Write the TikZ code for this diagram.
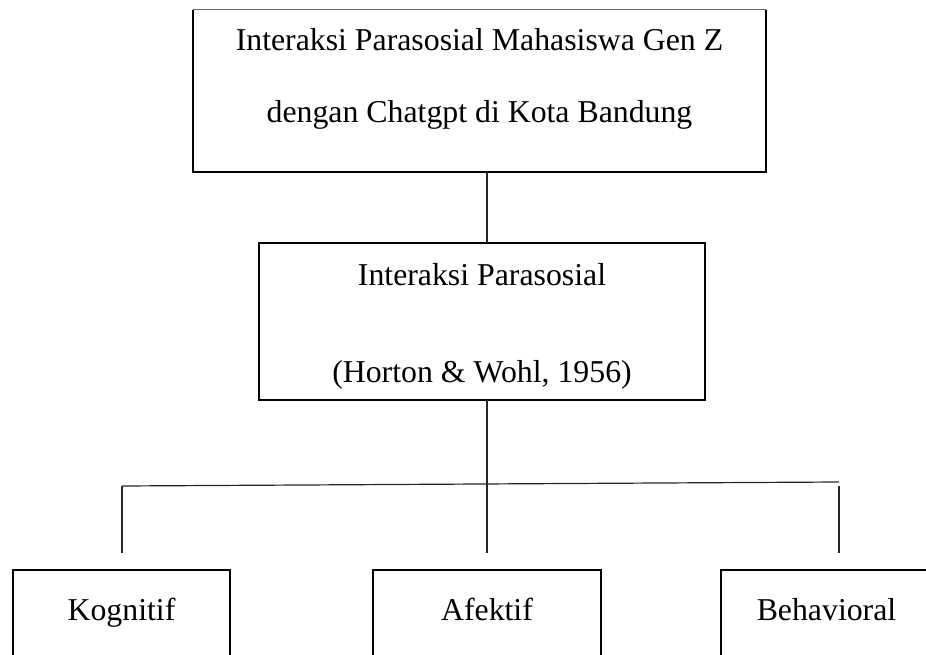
\documentclass[tikz,border=0pt]{standalone}
\usepackage{fontspec}
\setmainfont{Liberation Serif}
\begin{document}
\begin{tikzpicture}[x=1pt,y=-1pt,
  boxarea/.style={rectangle, inner sep=0pt, outer sep=0pt},
  edge/.style={line width=2.4pt, black},
  thinedge/.style={line width=1pt, black!60},
  conn/.style={line width=1.2pt, black!85},
  lbl/.style={inner sep=0pt, anchor=base, font=\fontsize{31.8}{38}\selectfont}]
\useasboundingbox (0,0) rectangle (926,655);
\fill[white] (0,0) rectangle (926,655);
% top box
\node[boxarea, minimum width=573pt, minimum height=162pt] (top) at (479.5,91) {};
\draw[thinedge] (top.north west) -- (top.north east);
\draw[edge] (top.north west) -- (top.south west) -- (top.south east) -- (top.north east);
\node[lbl] (t1) at (479.5,51) {Interaksi Parasosial Mahasiswa Gen Z};
\node[lbl] (t2) at (479.5,123) {dengan Chatgpt di Kota Bandung};
% middle box
\node[boxarea, draw, line width=2.4pt, minimum width=446pt, minimum height=157pt] (mid) at (482,321.5) {};
\node[lbl] (m1) at (482,285) {Interaksi Parasosial};
\node[lbl] (m2) at (482,382) {(Horton \& Wohl, 1956)};
% connectors
\coordinate (topc) at (487,172);
\coordinate (midtop) at (487,243);
\draw[conn] (topc) -- (midtop);
\coordinate (midbot) at (487,400);
\coordinate (hc) at (487,484);
\coordinate (hl) at (122,486);
\coordinate (hr) at (839,482);
\draw[conn] (midbot) -- (hc);
\draw[conn] (hl) -- (hr);
% bottom boxes (open at bottom)
\node[boxarea, minimum width=217pt, minimum height=85pt] (kog) at (121.5,612.5) {};
\node[boxarea, minimum width=228pt, minimum height=85pt] (afe) at (487,612.5) {};
\node[boxarea, minimum width=211pt, minimum height=85pt] (beh) at (826.5,612.5) {};
\foreach \b in {kog,afe,beh}{
  \draw[edge] (\b.south west) -- (\b.north west) -- (\b.north east) -- (\b.south east);
}
\node[lbl] (k1) at (121.5,620) {Kognitif};
\node[lbl] (a1) at (487,620) {Afektif};
\node[lbl] (b1) at (826.5,620) {Behavioral};
% drops
\coordinate (dk) at (122,553);
\coordinate (da) at (487,553);
\coordinate (db) at (839,553);
\draw[conn] (hl) -- (dk);
\draw[conn] (hc) -- (da);
\draw[conn] ([yshift=-4pt]hr) -- (db);
\end{tikzpicture}
\end{document}
